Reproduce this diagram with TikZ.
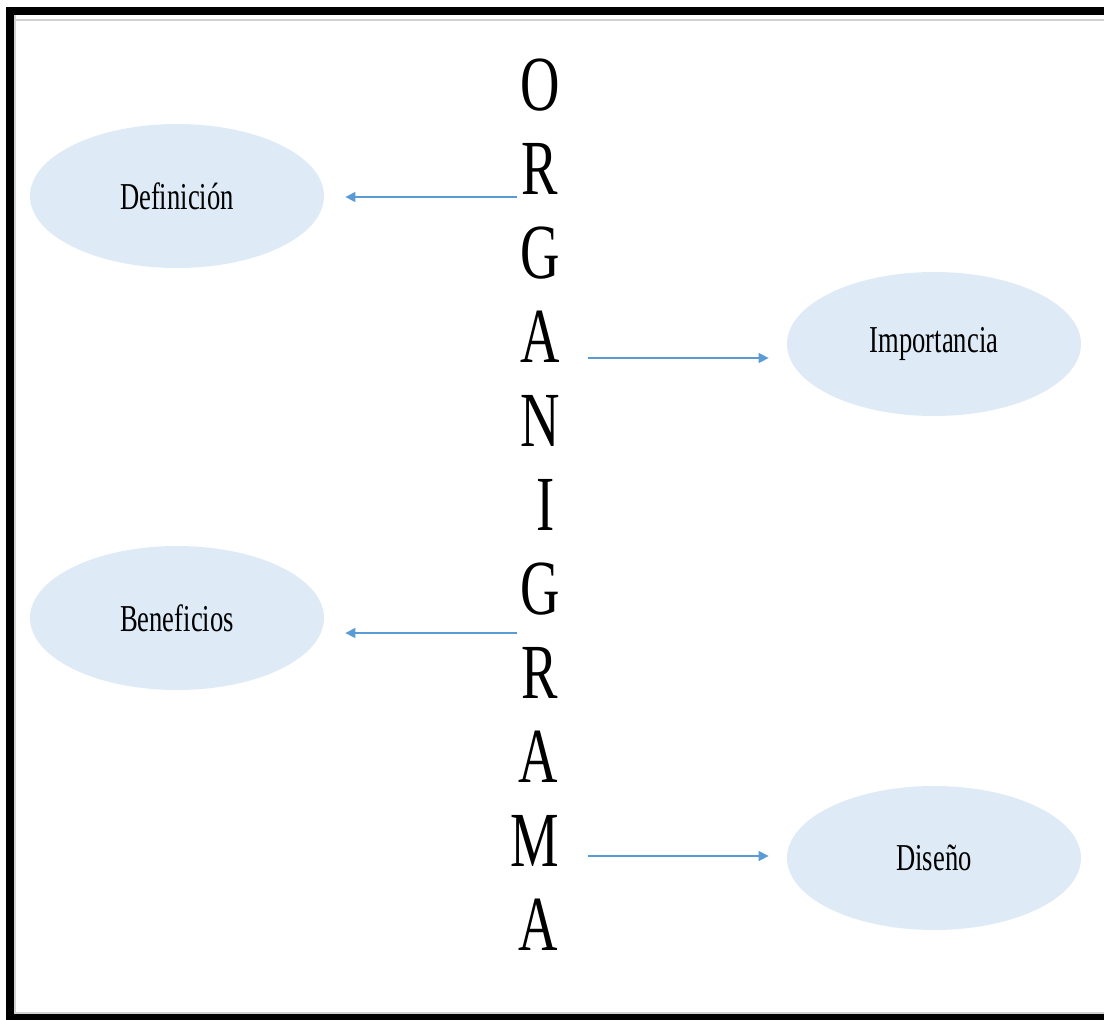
\documentclass[tikz,border=0pt]{standalone}
\usepackage{fontspec}
\setmainfont{Liberation Serif}
\newfontfamily\romana[FakeStretch=0.7]{Liberation Serif}
\usepackage{tikz}
\usetikzlibrary{shapes, arrows.meta, calc}
\definecolor{azulclaro}{HTML}{DEEBF7}
\definecolor{azulflecha}{HTML}{5B9BD5}
\tikzstyle{idea}=[ellipse, fill=azulclaro, minimum width=147pt, minimum height=72pt, inner sep=0pt, font=\romana\fontsize{19}{19}\selectfont]
\tikzstyle{letra}=[anchor=base, inner sep=0pt, font=\romana\fontsize{39}{39}\selectfont]
\tikzstyle{flecha}=[azulflecha, line width=0.75pt, -{Triangle[length=5pt,width=5pt]}]

\begin{document}
\begin{tikzpicture}[x=0.5pt, y=-0.5pt]
\useasboundingbox (0,0) rectangle (1104,1019);
% marco
\draw [gray!35, line width=0.75pt] (15,20) -- (1104,20) (15,15) -- (15,1013) -- (1104,1013);
\draw [black, line width=4pt] (1110,11) -- (10,11) -- (10,1018) -- (1110,1018);
% ORGANIGRAMA
\node [letra] (o1) at (540,110) {O}; \node [letra] (r1) at (540,194) {R};
\node [letra] (g1) at (540,278) {G}; \node [letra] (a1) at (540,362) {A};
\node [letra] (n1) at (540,446) {N}; \node [letra] (i1) at (546,530) {I};
\node [letra] (g2) at (540,614) {G}; \node [letra] (r2) at (540,698) {R};
\node [letra] (a2) at (538,782) {A}; \node [letra] (m1) at (535,866) {M};
\node [letra] (a3) at (538,950) {A};
% ideas
\node [idea] (def) at (177,196) {Definición};
\node [idea] (imp) at (934,344) {Importancia};
\node [idea] (ben) at (177,618) {Beneficios};
\node [idea] (dis) at (934,858) {Diseño};
\coordinate (d0) at (517,197); \coordinate (i0) at (588,358);
\coordinate (b0) at (517,633); \coordinate (s0) at (588,856);
\draw [flecha, shorten >=10.5pt] (d0) -- (d0 -| def.east);
\draw [flecha, shorten >=9pt] (i0) -- (i0 -| imp.west);
\draw [flecha, shorten >=10.5pt] (b0) -- (b0 -| ben.east);
\draw [flecha, shorten >=9pt] (s0) -- (s0 -| dis.west);
\end{tikzpicture}
\end{document}
